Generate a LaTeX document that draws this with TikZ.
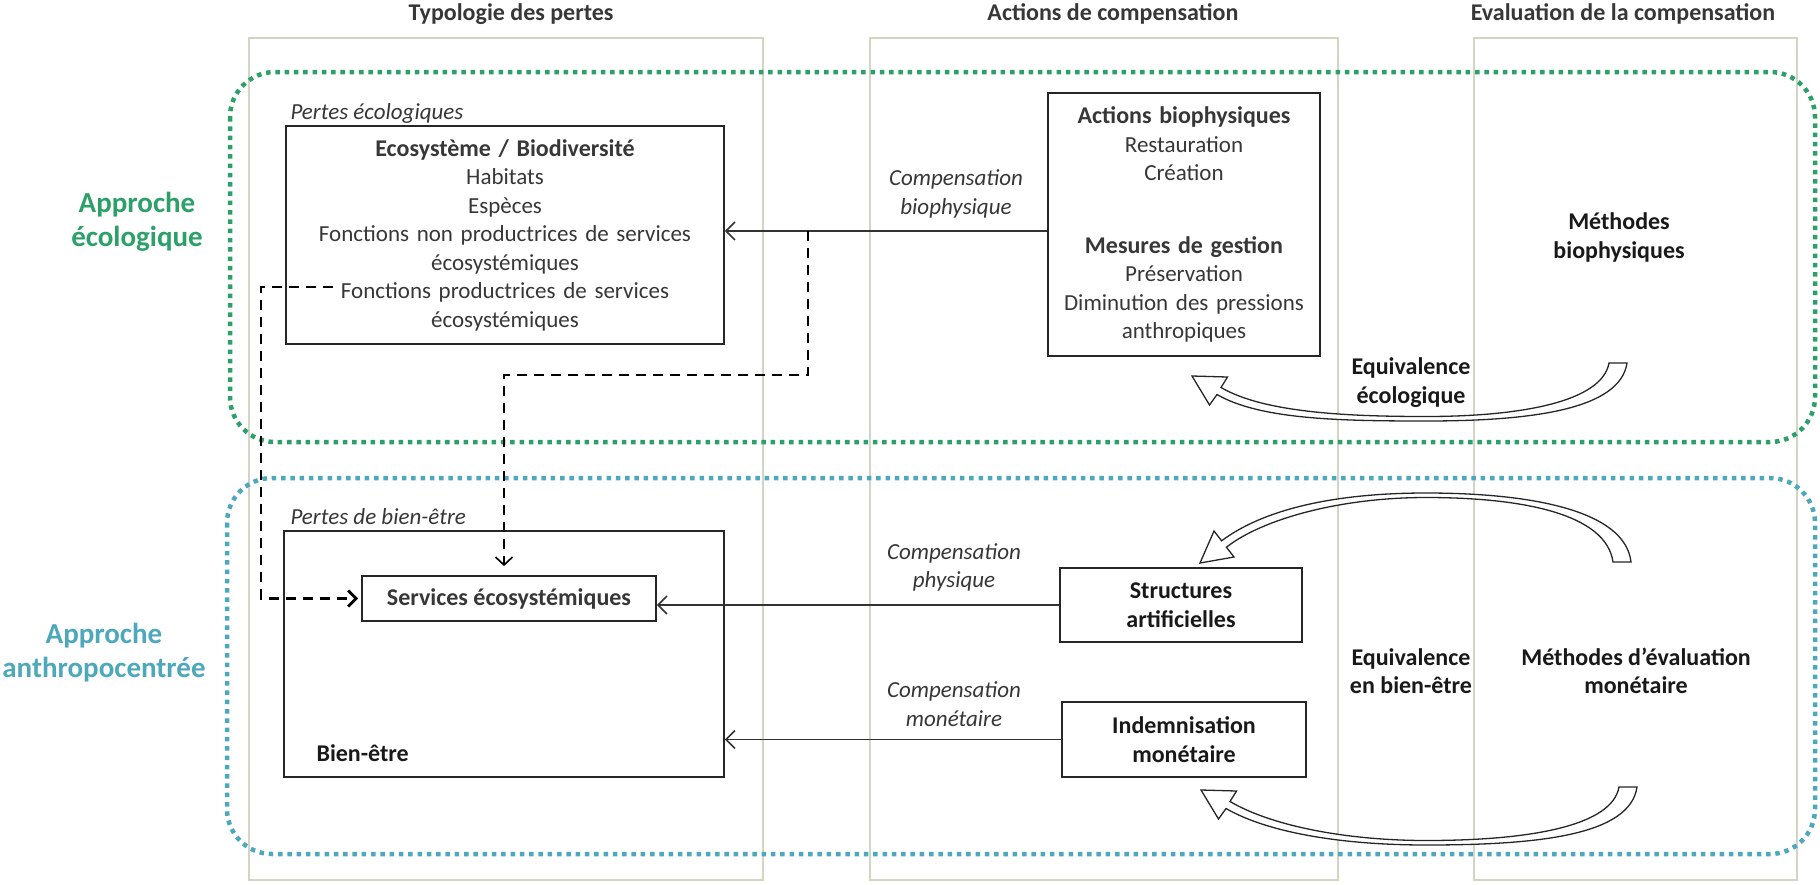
\documentclass[tikz,border=0pt]{standalone}
\usepackage{fontspec}
\setmainfont{Carlito}
\usetikzlibrary{arrows.meta,calc}
\definecolor{colline}{RGB}{212,212,196}
\definecolor{ecogreen}{RGB}{44,160,104}
\definecolor{anthblue}{RGB}{78,168,188}
\definecolor{txtgray}{RGB}{55,55,55}
\begin{document}
\begin{tikzpicture}[x=1pt,y=-1pt,
  col/.style={draw=colline, line width=2.5pt},
  zone/.style={line width=4.5pt, dash pattern=on 4.5pt off 4.8pt, rounded corners=45pt},
  box/.style={draw=black!85, line width=1.8pt, align=center, inner sep=0pt,
    font=\fontsize{23}{28.5}\selectfont, text=txtgray},
  hdr/.style={font=\bfseries\fontsize{24}{28}\selectfont, text=txtgray},
  lbl/.style={font=\itshape\fontsize{23}{28.5}\selectfont, text=txtgray, align=center},
  bold/.style={font=\bfseries\fontsize{24}{28.5}\selectfont, text=black!90, align=center},
  side/.style={font=\bfseries\fontsize{29}{34}\selectfont, align=center},
  conn/.style={line width=1.5pt, black!80, -{Straight Barb[length=9pt,width=18pt,line width=1.5pt]}},
  dsh/.style={line width=2.8pt, black, dash pattern=on 10pt off 7pt},
  barrow/.style={fill=white, draw=black!85, line width=1.3pt, line join=miter}
]
\useasboundingbox (0,0) rectangle (1820,884);
\fill[white] (0,0) rectangle (1820,884);

% columns
\draw[col] (249,38) rectangle (763,880);
\draw[col] (870,38) rectangle (1338,880);
\draw[col] (1474,38) rectangle (1797,880);
\node[hdr] (h1) at (511,14) {Typologie des pertes};
\node[hdr] (h2) at (1113,14) {Actions de compensation};
\node[hdr] (h3) at (1623,14) {Evaluation de la compensation};

% zones
\draw[zone, draw=ecogreen] (230,72) rectangle (1815,442);
\draw[zone, draw=anthblue] (227,478) rectangle (1815,854);
\node[side, text=ecogreen] (ae) at (137,222) {Approche\\écologique};
\node[side, text=anthblue] (aa) at (104,653) {Approche\\anthropocentrée};

% boxes
\node[lbl, anchor=west] (pe) at (287,113) {Pertes écologiques};
\node[box, minimum width=438pt, minimum height=218pt, text width=432pt] (eco) at (505,235)
  {\textbf{\fontsize{24}{28.5}\selectfont Ecosystème / Biodiversité}\\Habitats\\Espèces\\Fonctions non productrices de services\\écosystémiques\\Fonctions productrices de services\\écosystémiques};
\node[box, minimum width=272pt, minimum height=263pt, text width=266pt] (act) at (1184,224.5)
  {\textbf{\fontsize{24}{28.5}\selectfont Actions biophysiques}\\Restauration\\Création\\[44pt]\textbf{\fontsize{24}{28.5}\selectfont Mesures de gestion}\\Préservation\\Diminution des pressions\\anthropiques};

\node[lbl, anchor=west] (pb) at (287,517) {Pertes de bien-être};
\node[box, minimum width=440pt, minimum height=246pt] (bien) at (504,654) {};
\node[bold, anchor=west] (bt) at (313,753) {Bien-être};
\node[box, minimum width=294pt, minimum height=45pt] (serv) at (509,598.5) {\textbf{\fontsize{24}{28.5}\selectfont Services écosystémiques}};
\node[box, minimum width=242pt, minimum height=74pt, font=\bfseries\fontsize{24}{28.5}\selectfont, text=black!90] (struct) at (1181,605) {Structures\\artificielles};
\node[box, minimum width=244pt, minimum height=75pt, font=\bfseries\fontsize{24}{28.5}\selectfont, text=black!90] (indem) at (1184,739.5) {Indemnisation\\monétaire};

% labels
\node[lbl] (cb) at (956,194) {Compensation\\biophysique};
\node[lbl] (cp) at (954,567.5) {Compensation\\physique};
\node[lbl] (cm) at (954,704) {Compensation\\monétaire};
\node[bold] (ee) at (1411,382.5) {Equivalence\\écologique};
\node[bold] (eb) at (1411,671) {Equivalence\\en bien-être};
\node[bold] (mb) at (1619,237.5) {Méthodes\\biophysiques};
\node[bold] (mm) at (1636,671) {Méthodes d’évaluation\\monétaire};

% connectors
\coordinate (a1) at ([yshift=-6.5pt]act.west);
\draw[conn] (a1) -- (a1 -| eco.east);
\draw[conn] (struct.west) -- (struct.west -| serv.east);
\draw[conn] (indem.west) -- (indem.west -| bien.east);

\coordinate (j1) at (808,231);
\coordinate (k1) at (808,375);
\draw[dsh, -{Straight Barb[length=8pt,width=17pt,line width=1.6pt]}, shorten >=9pt]
  (j1) -- (k1) -| ([xshift=-5pt]serv.north);
\coordinate (f1) at (333,287);
\coordinate (f2) at (261,287);
\draw[dsh, -{Straight Barb[length=8pt,width=16pt,line width=2.8pt]}, shorten >=3pt]
  (f1) -- (f2) |- (serv.west);

% curved block arrows
% ecological (tail top right, head up-left)
\draw[barrow] (1609,363) -- (1627,363)
  .. controls (1620,410) and (1530,421) .. (1426,421)
  .. controls (1340,421) and (1260,419.5) .. (1217,394.5)
  -- (1209.5,405) -- (1192,376) -- (1227.5,377) -- (1221,387.5)
  .. controls (1264.5,413) and (1350,416.5) .. (1426,416.5)
  .. controls (1520,416.5) and (1602,402) .. (1609,363) -- cycle;
% welfare top (tail bottom right, head down-left)
\draw[barrow] (1613,562) -- (1631,562)
  .. controls (1625,510) and (1530,493) .. (1426,493)
  .. controls (1330,493) and (1261.6,510.8) .. (1221.6,540.8)
  -- (1214,531) -- (1200,563) -- (1234,557) -- (1226.4,547.2)
  .. controls (1262.4,519) and (1340,497.5) .. (1426,497.5)
  .. controls (1520,497.5) and (1606,513) .. (1613,562) -- cycle;
% welfare bottom (tail top right, head up-left)
\draw[barrow] (1619,787) -- (1637,787)
  .. controls (1630,835) and (1540,845) .. (1426,845)
  .. controls (1345,845) and (1269.5,833.5) .. (1226,808.5)
  -- (1218.5,819) -- (1201,790) -- (1236.5,791) -- (1230,801.5)
  .. controls (1273.5,827) and (1350,840.5) .. (1426,840.5)
  .. controls (1530,840.5) and (1612,826) .. (1619,787) -- cycle;
\end{tikzpicture}
\end{document}
